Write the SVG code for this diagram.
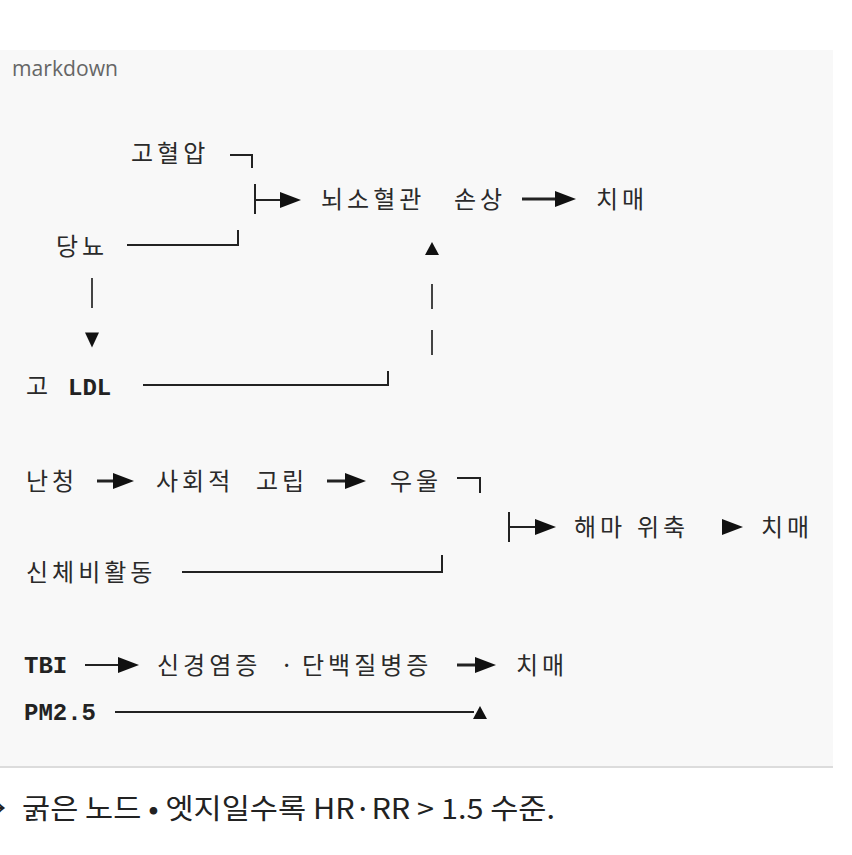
<svg xmlns="http://www.w3.org/2000/svg" xmlns:xlink="http://www.w3.org/1999/xlink" width="852" height="855" viewBox="0 0 852 855">
<style>
.ko{font-family:"Noto Sans CJK KR","Noto Sans",sans-serif;font-size:24px;letter-spacing:4px;fill:#2a2a2a}
.mono{font-family:"Liberation Mono","DejaVu Sans Mono",monospace;font-size:24px;font-weight:bold;fill:#222}
.ln{stroke:#222;stroke-width:2;fill:none}
.thick{stroke:#222;stroke-width:3;fill:none}
.bar{stroke:#444;stroke-width:2;fill:none}
.head{fill:#111}
.lbl{font-family:"Open Sans","Noto Sans",sans-serif;font-size:22px;fill:#666}
.note{font-family:"Noto Sans CJK KR","Noto Sans",sans-serif;font-size:28px;fill:#222}
</style>
<defs>
<polygon id="tr" points="0,-8 21,0 0,8"/>
<polygon id="tu" points="-7,6.5 7,6.5 0,-6.5"/>
<polygon id="td" points="-7,-7.5 7,-7.5 0,7.5"/>
</defs>
<rect x="0" y="0" width="852" height="855" fill="#ffffff"/>
<rect x="-2" y="50" width="835" height="716" fill="#f8f8f8"/>
<line x1="0" y1="767" x2="833" y2="767" stroke="#dcdcdc" stroke-width="2"/>
<text class="lbl" x="12" y="76" textLength="106" lengthAdjust="spacingAndGlyphs">markdown</text>

<g id="connectors">
  <path class="ln" d="M230,155 H252 V168"/>
  <path class="ln" d="M255,184 V214 M255,200 H282"/>
  <use xlink:href="#tr" class="head" x="280" y="200"/>
  <path class="ln" d="M127,245 H238 V230"/>
  <path class="thick" d="M522,199 H557"/>
  <use xlink:href="#tr" class="head" x="555" y="199"/>
  <path class="bar" d="M92,278 V308"/>
  <use xlink:href="#td" class="head" x="92" y="340"/>
  <path class="ln" d="M143,385 H388 V371"/>
  <path class="bar" d="M432,284 V309 M432,330 V355"/>
  <use xlink:href="#tu" class="head" x="432" y="248.5"/>
  <path class="thick" d="M97,481 H114"/>
  <use xlink:href="#tr" class="head" x="113" y="481"/>
  <path class="thick" d="M327,481 H347"/>
  <use xlink:href="#tr" class="head" x="345" y="481"/>
  <path class="ln" d="M457,478 H480 V493"/>
  <path class="ln" d="M509,512 V542 M509,527 H537"/>
  <use xlink:href="#tr" class="head" x="535" y="527"/>
  <use xlink:href="#tr" class="head" x="722" y="527"/>
  <path class="ln" d="M182,572 H442 V555"/>
  <path class="ln" d="M85,665 H120"/>
  <use xlink:href="#tr" class="head" x="118" y="665"/>
  <path class="thick" d="M457,665 H477"/>
  <use xlink:href="#tr" class="head" x="475" y="665"/>
  <path class="ln" d="M115,712 H474"/>
  <use xlink:href="#tu" class="head" x="480" y="712.5"/>
</g>

<g id="n-hypertension"><text class="ko" x="131" y="162">고혈압</text></g>
<g id="n-svd"><text class="ko" x="321" y="208">뇌소혈관<tspan x="454">손상</tspan></text></g>
<g id="n-dementia1"><text class="ko" x="596" y="208">치매</text></g>
<g id="n-diabetes"><text class="ko" x="56" y="255">당뇨</text></g>
<g id="n-ldl"><text class="ko" x="26" y="395">고</text><text class="mono" x="68" y="395">LDL</text></g>
<g id="n-hearing"><text class="ko" x="26" y="490">난청</text></g>
<g id="n-isolation"><text class="ko" x="156" y="490">사회적<tspan x="256">고립</tspan></text></g>
<g id="n-depression"><text class="ko" x="390" y="490">우울</text></g>
<g id="n-hippo"><text class="ko" x="574" y="536">해마<tspan x="637">위축</tspan></text></g>
<g id="n-dementia2"><text class="ko" x="761" y="536">치매</text></g>
<g id="n-inactivity"><text class="ko" x="26" y="581">신체비활동</text></g>
<g id="n-tbi"><text class="mono" x="24" y="673">TBI</text></g>
<g id="n-inflam"><text class="ko" x="157" y="674">신경염증<tspan x="280">·</tspan><tspan x="302">단백질병증</tspan></text></g>
<g id="n-dementia3"><text class="ko" x="516" y="674">치매</text></g>
<g id="n-pm25"><text class="mono" x="24" y="720">PM2.5</text></g>

<text class="note" x="-22" y="819">→</text>
<text class="note" x="22" y="819" textLength="533" lengthAdjust="spacingAndGlyphs">굵은 노드 • 엣지일수록 HR·RR &gt; 1.5 수준.</text>
</svg>
